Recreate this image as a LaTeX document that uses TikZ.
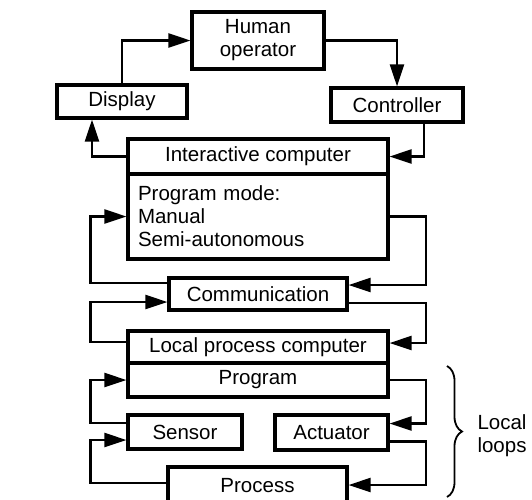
\documentclass[tikz,border=0pt]{standalone}
\usepackage{fontspec}
\setmainfont{Liberation Sans}
\usetikzlibrary{arrows.meta,decorations.pathreplacing}

\begin{document}
\begin{tikzpicture}[x=1pt, y=-1pt,
  box/.style={draw, line width=3.2pt, minimum height=33pt, inner sep=0pt, align=center, font=\fontsize{20.5}{23}\selectfont},
  arr/.style={-{Triangle[length=22pt,width=14pt]}, line width=2.2pt}]
\useasboundingbox (0,0) rectangle (532,499);

% --- operator loop ---
\node[box, minimum width=132pt, minimum height=57pt] (human) at (258,40.5) {Human\\operator};
\node[box, minimum width=130pt] (disp) at (122,101.5) {Display};
\node[box, minimum width=132pt, minimum height=34pt] (ctrl) at (397,105) {Controller};

% --- interactive computer ---
\node[box, minimum width=260pt, minimum height=35pt] (ichead) at (258,156.5) {Interactive computer};
\node[box, minimum width=260pt, minimum height=85pt, text width=240pt, align=left] (icbody) at (258,216.5) {Program mode:\\Manual\\Semi-autonomous};

% --- link ---
\node[box, minimum width=178pt, minimum height=32pt] (comm) at (258,294) {Communication};

% --- local process computer ---
\node[box, minimum width=260pt, minimum height=32pt] (lpc) at (258,347) {Local process computer};
\node[box, minimum width=260pt, minimum height=34pt] (prog) at (258,380) {Program};
\node[box, minimum width=114pt, minimum height=34pt] (sens) at (185,432) {Sensor};
\node[box, minimum width=113pt, minimum height=35pt] (act) at (331.5,432.5) {Actuator};
\node[box, minimum width=179pt, minimum height=38pt] (proc) at (257.5,486) {Process};

% --- connectors ---
\draw[arr] (disp.north) |- (human.west);
\draw[arr] (human.east) -| (ctrl.north);
\draw[arr] ([xshift=27pt]ctrl.south) |- (ichead.east);
\draw[arr] (ichead.west) -| ([xshift=-30pt]disp.south);

\draw[arr] ([yshift=11pt]comm.west) -- ++(-77,0) |- (icbody.west);
\draw[arr] (icbody.east) -- ++(36,0) |- ([yshift=9pt]comm.east);
\draw[arr] ([yshift=5pt]lpc.west) -- ++(-36,0) |- ([yshift=-8pt]comm.west);
\draw[arr] ([yshift=-9pt]comm.east) -- ++(77,0) |- ([yshift=4pt]lpc.east);

\draw[arr] ([yshift=9pt]sens.west) -- ++(-36,0) |- (prog.west);
\draw[arr] ([yshift=3pt]proc.west) -- ++(-76,0) |- ([yshift=-8pt]sens.west);
\draw[arr] (prog.east) -- ++(36,0) |- ([yshift=9pt]act.east);
\draw[arr] ([yshift=-9pt]act.east) -- ++(36,0) |- ([yshift=1pt]proc.east);

% --- local loops brace ---
\draw[line width=1.8pt, decorate, decoration={brace, amplitude=15pt}] (447,366) -- (447,497);
\node[font=\fontsize{20.5}{23}\selectfont, align=left, anchor=west] (loops) at (474,436) {Local\\loops};
\end{tikzpicture}
\end{document}
